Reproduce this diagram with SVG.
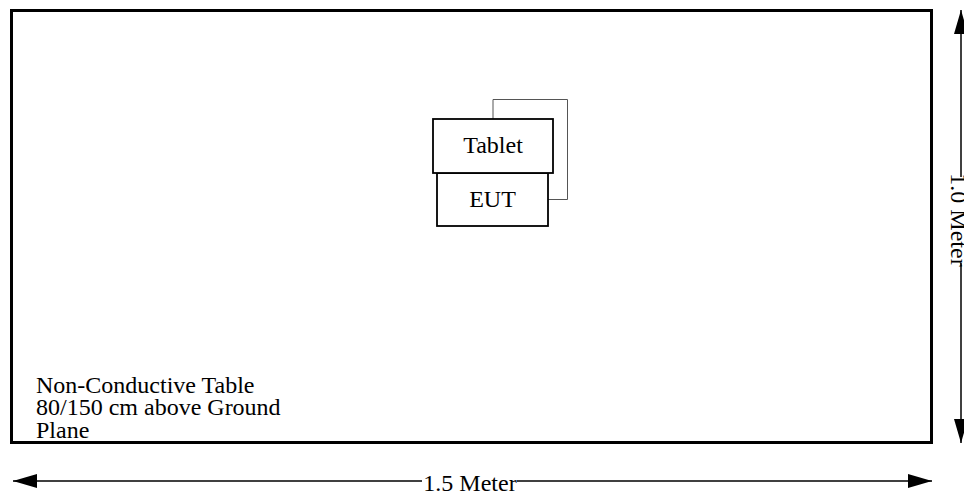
<svg xmlns="http://www.w3.org/2000/svg" width="964" height="493" viewBox="0 0 964 493">
<defs>
<style>
text{font-family:"Liberation Serif","Times New Roman",serif;font-size:24px;fill:#000}
.box{fill:#fff;stroke:#000;stroke-width:1.8}
.dim{stroke:#000;stroke-width:1.5;fill:none}
</style>
<marker id="ah" viewBox="0 0 24 14" refX="24" refY="7" markerWidth="24" markerHeight="14" markerUnits="userSpaceOnUse" orient="auto-start-reverse">
<path d="M0,0 L24,7 L0,14 Z" fill="#000"/>
</marker>
</defs>
<rect width="964" height="493" fill="#fff"/>
<g id="table">
<rect x="11.5" y="10.5" width="920" height="432" fill="none" stroke="#000" stroke-width="3"/>
<text x="36" y="393">Non-Conductive Table</text>
<text x="36" y="415">80/150 cm above Ground</text>
<text x="36" y="438">Plane</text>
</g>
<g id="back">
<polyline points="493,119 493,99.5 567.5,99.5 567.5,199.5 548,199.5" fill="none" stroke="#555" stroke-width="1"/>
</g>
<g id="eut">
<rect class="box" x="437" y="173" width="111" height="53"/>
<text x="492.5" y="207" text-anchor="middle">EUT</text>
</g>
<g id="tablet">
<rect class="box" x="433" y="119" width="120" height="54"/>
<text x="493" y="153" text-anchor="middle">Tablet</text>
</g>
<g id="connectors">
<line class="dim" x1="422" y1="481" x2="13" y2="481" marker-end="url(#ah)"/>
<line class="dim" x1="517" y1="481" x2="932" y2="481" marker-end="url(#ah)"/>
<line class="dim" x1="961" y1="177" x2="961" y2="10" marker-end="url(#ah)"/>
<line class="dim" x1="961" y1="263" x2="961" y2="443" marker-end="url(#ah)"/>
</g>
<g id="labels">
<text x="470" y="491" text-anchor="middle">1.5 Meter</text>
<text transform="translate(951,220) rotate(90)" text-anchor="middle" x="0" y="0">1.0 Meter</text>
</g>
</svg>
